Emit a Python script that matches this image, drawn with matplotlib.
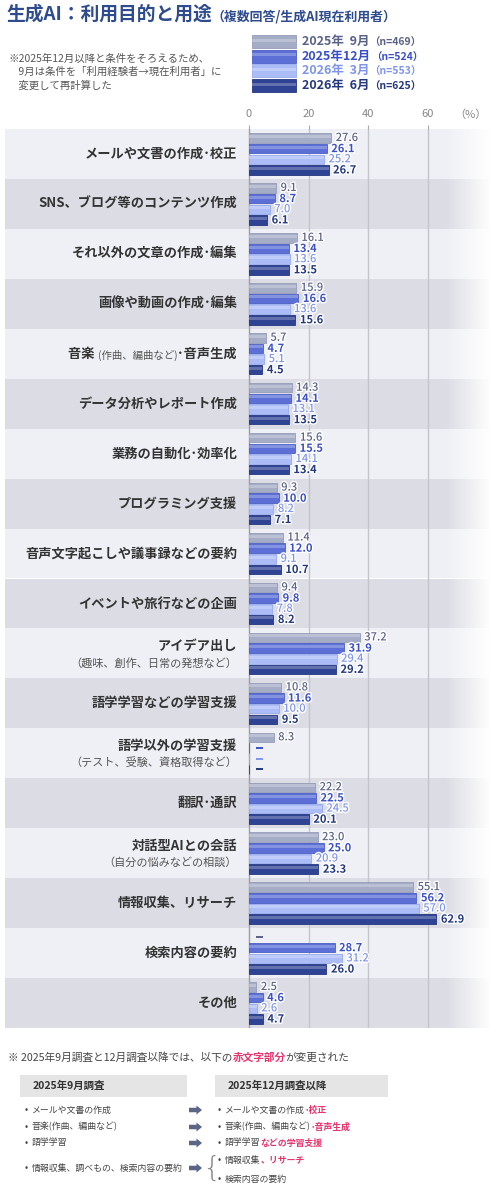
import numpy as np
import matplotlib.pyplot as plt
from matplotlib.patches import Rectangle, FancyArrow
import matplotlib.patheffects as pe

plt.rcParams['font.family'] = ['Noto Sans CJK JP', 'DejaVu Sans']

# ---- data ----
labels = ['メールや文書の作成･校正', 'SNS、ブログ等のコンテンツ作成', 'それ以外の文章の作成･編集',
          '画像や動画の作成･編集', '音楽 |(作曲、編曲など)|･音声生成', 'データ分析やレポート作成',
          '業務の自動化･効率化', 'プログラミング支援', '音声文字起こしや議事録などの要約',
          'イベントや旅行などの企画', 'アイデア出し', '語学学習などの学習支援', '語学以外の学習支援',
          '翻訳･通訳', '対話型AIとの会話', '情報収集、リサーチ', '検索内容の要約', 'その他']
sublabels = ['', '', '', '', '', '', '', '', '', '', '（趣味、創作、日常の発想など）', '',
             '（テスト、受験、資格取得など）', '', '（自分の悩みなどの相談）', '', '', '']

sep2025 = [27.6, 9.1, 16.1, 15.9, 5.7, 14.3, 15.6, 9.3, 11.4, 9.4, 37.2, 10.8, 8.3, 22.2, 23.0, 55.1, np.nan, 2.5]
dec2025 = [26.1, 8.7, 13.4, 16.6, 4.7, 14.1, 15.5, 10.0, 12.0, 9.8, 31.9, 11.6, np.nan, 22.5, 25.0, 56.2, 28.7, 4.6]
mar2026 = [25.2, 7.0, 13.6, 13.6, 5.1, 13.1, 14.1, 8.2, 9.1, 7.8, 29.4, 10.0, np.nan, 24.5, 20.9, 57.0, 31.2, 2.6]
jun2026 = [26.7, 6.1, 13.5, 15.6, 4.5, 13.5, 13.4, 7.1, 10.7, 8.2, 29.2, 9.5, np.nan, 20.1, 23.3, 62.9, 26.0, 4.7]

series = [sep2025, dec2025, mar2026, jun2026]
series_names = ['2025年  9月', '2025年12月', '2026年  3月', '2026年  6月']
series_n = ['（n=469）', '（n=524）', '（n=553）', '（n=625）']
ticks = [0, 20, 40, 60]

bar_colors = ['#a5acc6', '#5b6fd6', '#abbcf7', '#2f4394']
edge_colors = ['#959cb8', '#4c5fc4', '#97aaee', '#243680']
text_colors = ['#5a6286', '#3b50c8', '#7f95ec', '#24387e']
text_weights = ['medium', 'bold', 'medium', 'bold']
red = '#e8336d'
dark = '#444444'

# ---- figure ----
fig = plt.figure(figsize=(5, 11.88), dpi=100)

ov = fig.add_axes([0, 0, 1, 1], zorder=0)
ov.set_xlim(0, 500)
ov.set_ylim(1188, 0)
ov.axis('off')

ax = fig.add_axes([5 / 500, 1 - 1028 / 1188, 485 / 500, 899 / 1188], zorder=1)
ax.patch.set_visible(False)
ppu = 2.98  # pixels per percent
n = len(labels)
for s in ax.spines.values():
    s.set_visible(False)
ax.set_yticks([])
ax.set_xticks(ticks)
ax.xaxis.tick_top()
ax.tick_params(axis='x', length=3, pad=4, labelsize=8, labelcolor='#888888', color='#aaaaaa')

# row bands
for i in range(n):
    ax.axhspan(i - 0.5, i + 0.5, color='#eff0f5' if i % 2 == 0 else '#dcdde4', lw=0, zorder=0)

for t in ticks[1:]:
    ax.axvline(t, color='#c3c5cc', lw=1, zorder=1)
ax.axvline(0, color='#9a9ca6', lw=1, zorder=1)

# fade to white on the right
grad = np.zeros((2, 256, 4))
grad[..., :3] = 1
grad[..., 3] = np.linspace(0, 1, 256)
ax.imshow(grad, extent=(66, 81, n - 0.5, -0.5), aspect='auto', zorder=1.5, interpolation='bicubic')
ax.set_xlim(-(249 - 5) / ppu, (490 - 249) / ppu)
ax.set_ylim(n - 0.5, -0.5)

offsets = [-0.32, -0.107, 0.107, 0.32]
halo = [pe.withStroke(linewidth=2, foreground='white')]
ypos = np.arange(n)
for k, vals in enumerate(series):
    vals = np.array(vals, dtype=float)
    y = ypos + offsets[k]
    ax.barh(y, np.nan_to_num(vals), height=0.19, color=bar_colors[k], edgecolor=edge_colors[k], lw=0.6, zorder=2)
    ax.barh(y - 0.03, np.nan_to_num(vals), height=0.06, color='white', alpha=0.25, lw=0, zorder=2.1)
    for i, v in enumerate(vals):
        if np.isnan(v):
            ax.plot([2.2, 4.6], [y[i], y[i]], color=text_colors[k], lw=1.4, solid_capstyle='butt', zorder=3)
        else:
            ax.text(v + 1.5, y[i], f'{v:.1f}', va='center', ha='left', fontsize=8,
                    color=text_colors[k], fontweight=text_weights[k], path_effects=halo, zorder=3)

# category labels
lx = -4.0
for i, (lab, sub) in enumerate(zip(labels, sublabels)):
    if '|' in lab:
        a, b, c = lab.split('|')
        t = ax.text(lx, i, c, ha='right', va='center', fontsize=9.5, fontweight='bold', color='#333333')
        t = ax.annotate(b, xy=(0, 0), xycoords=t, ha='right', va='bottom', fontsize=7.5, color='#555555')
        ax.annotate(a, xy=(0, 0), xycoords=t, ha='right', va='bottom', fontsize=9.5,
                    fontweight='bold', color='#333333')
    elif sub:
        ax.text(lx, i - 0.14, lab, ha='right', va='center', fontsize=9.5, fontweight='bold', color='#333333')
        ax.text(lx, i + 0.19, sub, ha='right', va='center', fontsize=8, color='#555555')
    else:
        ax.text(lx, i, lab, ha='right', va='center', fontsize=9.5, fontweight='bold', color='#333333')

# title
title_color = '#2d4b8e'
t = ov.text(6, 14, '生成AI：利用目的と用途', fontsize=13.5, fontweight='bold', color=title_color, va='center')
ov.annotate('（複数回答/生成AI現在利用者）', xy=(1, 0), xycoords=t, va='bottom', fontsize=9.3,
            fontweight='bold', color=title_color)

ov.text(8, 54, '※2025年12月以降と条件をそろえるため、\n　9月は条件を「利用経験者→現在利用者」に\n　変更して再計算した',
        fontsize=7.5, color='#555555', va='top', linespacing=1.35)

# legend
leg_y = [41.5, 56, 70.5, 85.5]
for k in range(4):
    ov.add_patch(Rectangle((252, leg_y[k] - 6.5), 44, 13, fc=bar_colors[k], ec=edge_colors[k], lw=0.6))
    ov.add_patch(Rectangle((252, leg_y[k] - 3), 44, 3, fc='white', alpha=0.25, lw=0))
    t = ov.text(302, leg_y[k], series_names[k], fontsize=9, fontweight='bold', color=text_colors[k], va='center')
    ov.annotate(series_n[k], xy=(1, 0), xycoords=t, va='bottom', fontsize=7.5, fontweight='bold',
                color=text_colors[k])

ov.text(470, 115, '（%）', fontsize=8, color='#888888', ha='center', va='center')


# ---- bottom notes ----
def seg(x, y, parts, size):
    s, c, w = parts[0]
    t = ov.text(x, y, s, color=c, fontsize=size, fontweight=w, va='center', ha='left')
    for s, c, w in parts[1:]:
        t = ov.annotate(s, xy=(1, 0), xycoords=t, va='bottom', ha='left', color=c, fontsize=size, fontweight=w)


seg(8, 1058, [('※ 2025年9月調査と12月調査以降では、以下の', dark, 'normal'), ('赤文字部分', red, 'bold'),
              ('が変更された', dark, 'normal')], 7.7)

ov.add_patch(Rectangle((20, 1075), 167, 22, fc='#e5e5e5', lw=0))
ov.add_patch(Rectangle((215, 1075), 173, 22, fc='#e5e5e5', lw=0))
ov.text(33, 1086, '2025年9月調査', fontsize=7.5, fontweight='bold', color='#333333', va='center')
ov.text(228, 1086, '2025年12月調査以降', fontsize=7.5, fontweight='bold', color='#333333', va='center')

bsize = 6.4
left_items = ['メールや文書の作成', '音楽(作曲、編曲など)', '語学学習', '情報収集、調べもの、検索内容の要約']
left_y = [1110, 1127, 1143, 1168]
for s, y in zip(left_items, left_y):
    ov.text(25, y, '•', fontsize=7, color=dark, va='center', ha='left')
    ov.text(32, y, s, fontsize=bsize, color=dark, va='center', ha='left')
    ov.add_patch(FancyArrow(189, y, 13, 0, width=4.5, head_width=9, head_length=5.5,
                            length_includes_head=True, color='#5b6585', lw=0))

right_items = [[('メールや文書の作成', dark, 'normal'), ('･校正', red, 'bold')],
               [('音楽(作曲、編曲など)', dark, 'normal'), ('･音声生成', red, 'bold')],
               [('語学学習', dark, 'normal'), ('などの学習支援', red, 'bold')],
               [('情報収集', dark, 'normal'), ('、リサーチ', red, 'bold')],
               [('検索内容の要約', dark, 'normal')]]
right_y = [1110, 1127, 1143, 1160, 1179]
for parts, y in zip(right_items, right_y):
    ov.text(218, y, '•', fontsize=7, color=dark, va='center', ha='left')
    seg(225, y, parts, bsize)

ov.text(211, 1169, '{', fontsize=21, color='#888888', va='center', ha='center', family='DejaVu Sans',
        fontweight='light')

fig.savefig('out.png', dpi=100)
